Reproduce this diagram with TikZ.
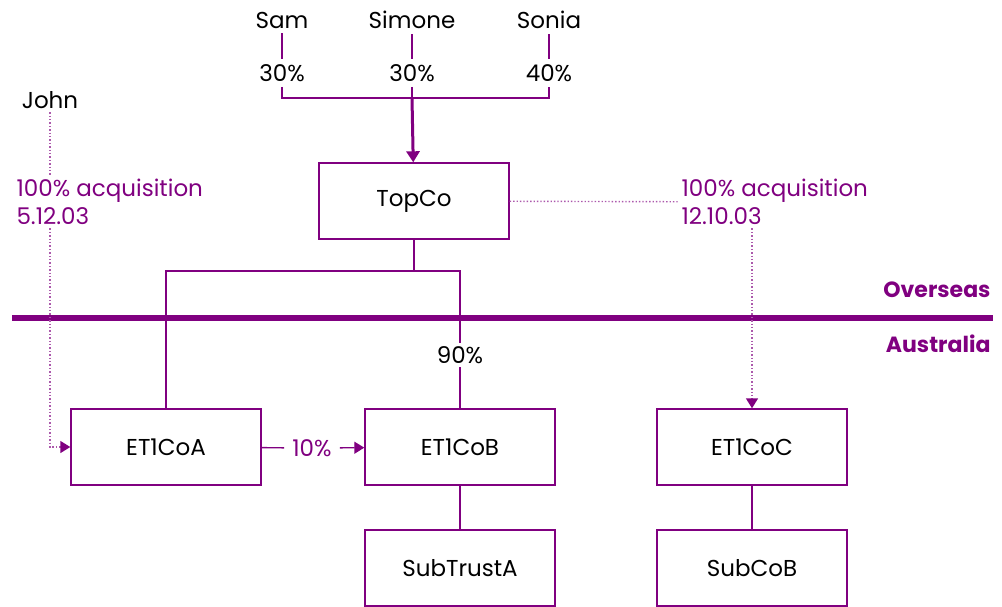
\documentclass[tikz,border=0pt]{standalone}
\usepackage{fontspec}
\setmainfont{Poppins}
\usetikzlibrary{arrows.meta}
\definecolor{plum}{RGB}{128,0,128}

\begin{document}
\begin{tikzpicture}
[x=1pt,y=-1pt,font=\fontsize{23}{28}\selectfont,
       box/.style={draw=plum,line width=1.4pt,minimum width=190pt,minimum height=76pt},
       link/.style={draw=plum,line width=1.4pt},
       acq/.style={draw=plum!65,dotted,line width=1.4pt},
       tip/.style={-{Triangle[color=plum,length=10pt,width=12pt]}},
       owner/.style={inner sep=5pt},
       note/.style={text=plum,align=left,anchor=west}]
  \useasboundingbox (0,0) rectangle (1002,606);
  % shareholders
  \node[owner] (sam) at (282,20) {Sam};
  \node[owner] (simone) at (412,20) {Simone};
  \node[owner] (sonia) at (549,20) {Sonia};
  \node[owner] (sam30) at (282,73) {30\%};
  \node[owner] (simone30) at (412,73) {30\%};
  \node[owner] (sonia40) at (549,73) {40\%};
  \draw[link] (sam) -- (sam30);
  \draw[link] (simone) -- (simone30);
  \draw[link] (sonia) -- (sonia40);
  \coordinate (join) at (412,98);
  \draw[link] (sam30.south) |- (join) -| (sonia40.south);
  \draw[link] (simone30) -- (join);
  % companies
  \node[box] (top) at (414,201) {TopCo};
  \node[box] (coa) at (166,447) {ET1CoA};
  \node[box] (cob) at (460,447) {ET1CoB};
  \node[box] (coc) at (752,447) {ET1CoC};
  \node[box] (trust) at (460,568) {SubTrustA};
  \node[box] (subb) at (752,568) {SubCoB};
  \draw[link,line width=3pt,-{Triangle[length=11pt,width=13pt]}] (join) -- (top);
  \coordinate (fork) at (414,271);
  \node (b90) at (460,355) {90\%};
  \draw[link] (top) -- (fork) -| (coa);
  \draw[link] (fork) -| (b90);
  \draw[link] (b90) -- (cob);
  \draw[link] (cob) -- (trust);
  \draw[link] (coc) -- (subb);
  \node[text=plum,inner sep=8pt] (a10) at (312,448) {10\%};
  \draw[link] (coa) -- (a10);
  \draw[link,tip] (a10) -- (cob);
  % border
  \coordinate (west) at (12,318);
  \coordinate (east) at (993,318);
  \draw[plum,line width=6pt] (west) -- (east);
  \node[text=plum,anchor=east,font=\fontsize{22}{26}\selectfont\bfseries] (over) at (994,290) {Overseas};
  \node[text=plum,anchor=east,font=\fontsize{22}{26}\selectfont\bfseries] (aus) at (994,344) {Australia};
  % acquisitions
  \node (john) at (50,100) {John};
  \node[note] (acqa) at (13,202) {100\% acquisition\\5.12.03};
  \node[note] (acqc) at (678,202) {100\% acquisition\\12.10.03};
  \draw[acq] (john) -- (john |- acqa.north);
  \draw[acq,tip] (john |- acqa.south) |- (coa);
  \draw[acq] (top) -- (acqc);
  \draw[acq,tip] (coc |- acqc.south) -- (coc);
\end{tikzpicture}
\end{document}
